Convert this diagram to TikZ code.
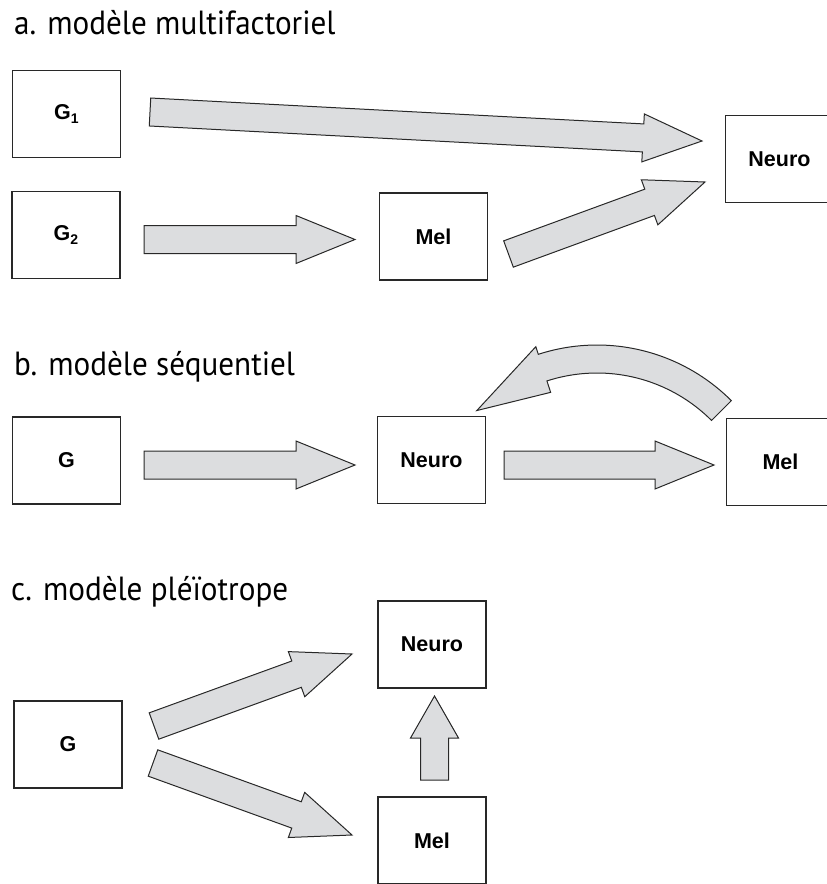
\documentclass[tikz,border=0pt]{standalone}
\usepackage{fontspec}
\setmainfont{Liberation Sans}
\newfontfamily\titlefont{PT Sans}
\usetikzlibrary{calc}
\definecolor{arrfill}{RGB}{220,221,223}
\definecolor{lineclr}{RGB}{40,40,40}
\tikzset{
  box/.style={draw=lineclr, line width=1.3pt, minimum width=108pt, minimum height=87pt, inner sep=0pt,
    font=\fontsize{21.5}{24}\selectfont\bfseries},
  blk/.style={draw=lineclr, fill=arrfill, line width=1pt, line join=miter},
  ttl/.style={anchor=base west, inner sep=0pt, font=\titlefont\fontsize{33.5}{40}\selectfont},
}
\newcommand\blockarrow[3][59pt]{%
  \coordinate (bah) at ($(#3)!#1!(#2)$);
  \draw[blk] ($(#2)!14pt!90:(#3)$) -- ($(bah)!14pt!90:(#3)$) -- ($(bah)!24pt!90:(#3)$) -- (#3)
    -- ($(bah)!24pt!-90:(#3)$) -- ($(bah)!14pt!-90:(#3)$) -- ($(#2)!14pt!-90:(#3)$) -- cycle;
}
\newcommand\subone[1]{\raisebox{-4pt}{\fontsize{14}{14}\selectfont #1}}
\newcommand\ttltext[1]{\scalebox{0.93}[1]{#1}}
\begin{document}
\begin{tikzpicture}[x=1pt,y=-1pt]
\useasboundingbox (0,0) rectangle (827,884);
% titles
\node[ttl] (ta) at (14,34) {\ttltext{a. modèle multifactoriel}};
\node[ttl] (tb) at (14,375) {\ttltext{b. modèle séquentiel}};
\node[ttl] (tc) at (11,600) {\ttltext{c. modèle pléïotrope}};
% a
\node[box] (G1) at (66.5,114) {G\subone{1}};
\node[box] (G2) at (66,235) {G\subone{2}};
\node[box] (MelA) at (433.5,236.5) {Mel};
\node[box] (NeuroA) at (779.5,159) {Neuro};
\coordinate (a1s) at (150,112); \coordinate (a1e) at (702,141);
\coordinate (a2s) at (144,239.5); \coordinate (a2e) at (355,239.5);
\coordinate (a3s) at (508.5,254); \coordinate (a3e) at (705,182);
\blockarrow{a1s}{a1e}
\blockarrow{a2s}{a2e}
\blockarrow{a3s}{a3e}
% b
\node[box] (GB) at (66.5,460.5) {G};
\node[box] (NeuroB) at (431.5,460) {Neuro};
\node[box] (MelB) at (780.5,462) {Mel};
\coordinate (b1s) at (144,465); \coordinate (b1e) at (355,465);
\coordinate (b2s) at (504,465); \coordinate (b2e) at (714,465);
\blockarrow{b1s}{b1e}
\blockarrow{b2s}{b2e}
\draw[blk] plot[domain=45:108, samples=40] ({597+190*cos(\x)},{535-190*sin(\x)})
  -- ({597+198*cos(108)},{535-198*sin(108)})
  -- ({597+173*cos(134)},{535-173*sin(134)})
  -- ({597+150*cos(108)},{535-150*sin(108)})
  -- plot[domain=108:45, samples=40] ({597+162*cos(\x)},{535-162*sin(\x)}) -- cycle;
% c
\node[box] (NeuroC) at (432,644.5) {Neuro};
\node[box] (GC) at (68,744.5) {G};
\node[box] (MelC) at (432,840.5) {Mel};
\coordinate (c1s) at (154,726); \coordinate (c1e) at (352,654);
\coordinate (c2s) at (153,763); \coordinate (c2e) at (352,835);
\coordinate (c3s) at (434.5,780); \coordinate (c3e) at (434.5,696);
\blockarrow{c1s}{c1e}
\blockarrow{c2s}{c2e}
\blockarrow[42pt]{c3s}{c3e}
\end{tikzpicture}
\end{document}
